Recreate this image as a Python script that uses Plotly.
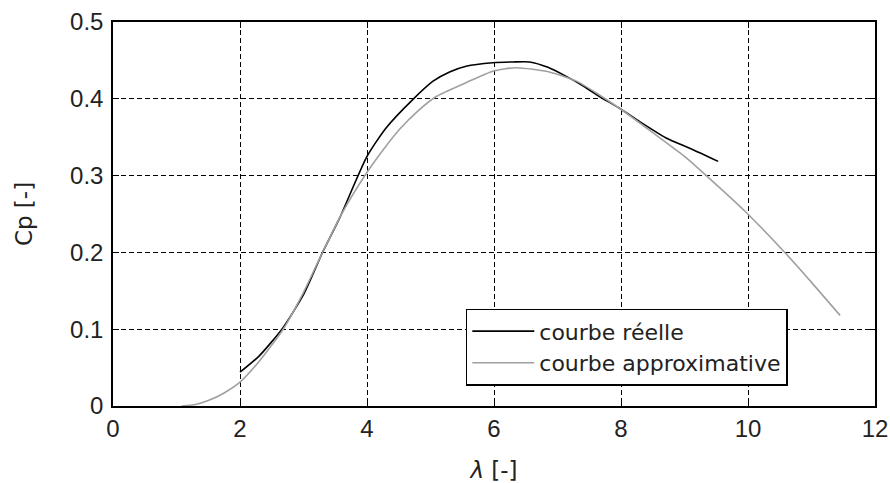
import plotly.graph_objects as go

# Courbe réelle
x_reel = [2.0, 2.3, 2.66, 3.0, 3.3, 3.57, 4.0, 4.3, 4.72, 5.04, 5.3, 5.56, 5.98, 6.3, 6.56, 6.85, 7.13, 7.4, 7.66, 7.97, 8.3, 8.71, 9.1, 9.53]
cp_reel = [0.044, 0.065, 0.1, 0.145, 0.2, 0.245, 0.325, 0.362, 0.399, 0.423, 0.435, 0.4425, 0.447, 0.448, 0.448, 0.441, 0.4295, 0.417, 0.403, 0.388, 0.37, 0.349, 0.335, 0.3185]

# Courbe approximative
x_approx = [1.08, 1.3, 1.5, 1.75, 2.0, 2.3, 2.68, 3.0, 3.3, 3.6, 3.99, 4.25, 4.51, 4.8, 5.09, 5.56, 5.98, 6.35, 6.87, 7.3, 7.66, 7.97, 8.5, 9.0, 9.33, 9.96, 10.59, 11.0, 11.45]
cp_approx = [0.0, 0.002, 0.007, 0.017, 0.031, 0.058, 0.1, 0.148, 0.2, 0.25, 0.303, 0.333, 0.36, 0.384, 0.403, 0.421, 0.436, 0.4405, 0.435, 0.423, 0.405, 0.388, 0.356, 0.325, 0.301, 0.253, 0.199, 0.161, 0.118]

x_ticks = [0, 2, 4, 6, 8, 10, 12]
y_ticks = [0, 0.1, 0.2, 0.3, 0.4, 0.5]
y_ticklabels = ["0", "0.1", "0.2", "0.3", "0.4", "0.5"]

TICKFONT = "Liberation Sans, Arial, sans-serif"
TEXTFONT = "DejaVu Sans, Liberation Sans, sans-serif"

fig = go.Figure()
fig.add_trace(go.Scatter(x=x_reel, y=cp_reel, mode="lines", name="courbe réelle",
                         line=dict(color="black", width=1.6, shape="spline", smoothing=0.6)))
fig.add_trace(go.Scatter(x=x_approx, y=cp_approx, mode="lines", name="courbe approximative",
                         line=dict(color="#a0a0a0", width=1.6, shape="spline", smoothing=0.6)))

axis_common = dict(showline=True, linecolor="black", linewidth=1.5, mirror="ticks",
                   ticks="inside", ticklen=6, tickcolor="black", automargin=False,
                   ticklabeloverflow="allow",
                   showgrid=True, gridcolor="black", gridwidth=1, griddash="5px,3px",
                   zeroline=False, tickfont=dict(family=TICKFONT, size=24, color="#222"))

fig.update_xaxes(range=[0, 12], tickvals=x_ticks, ticktext=[str(v) for v in x_ticks],
                 ticklabelstandoff=0,
                 title=dict(text="<i>λ</i> [-]", font=dict(family=TEXTFONT, size=23, color="#222"), standoff=23),
                 **axis_common)
fig.update_yaxes(range=[0, 0.5], tickvals=y_ticks, ticktext=y_ticklabels,
                 ticklabelstandoff=3,
                 title=dict(text="Cp [-]", font=dict(family=TEXTFONT, size=23, color="#222"), standoff=31),
                 **axis_common)

fig.update_layout(
    width=890, height=483,
    margin=dict(l=113, r=15, t=22, b=77),
    plot_bgcolor="white", paper_bgcolor="white",
    legend=dict(x=0.463, y=0.253, xanchor="left", yanchor="top",
                bordercolor="black", borderwidth=1.5, bgcolor="white",
                font=dict(family=TEXTFONT, size=22, color="#222"),
                tracegroupgap=0, itemwidth=62),
)

fig.write_html("out.html", config={"displayModeBar": False},
               post_script="document.body.style.margin='0';document.body.style.overflow='hidden';")
